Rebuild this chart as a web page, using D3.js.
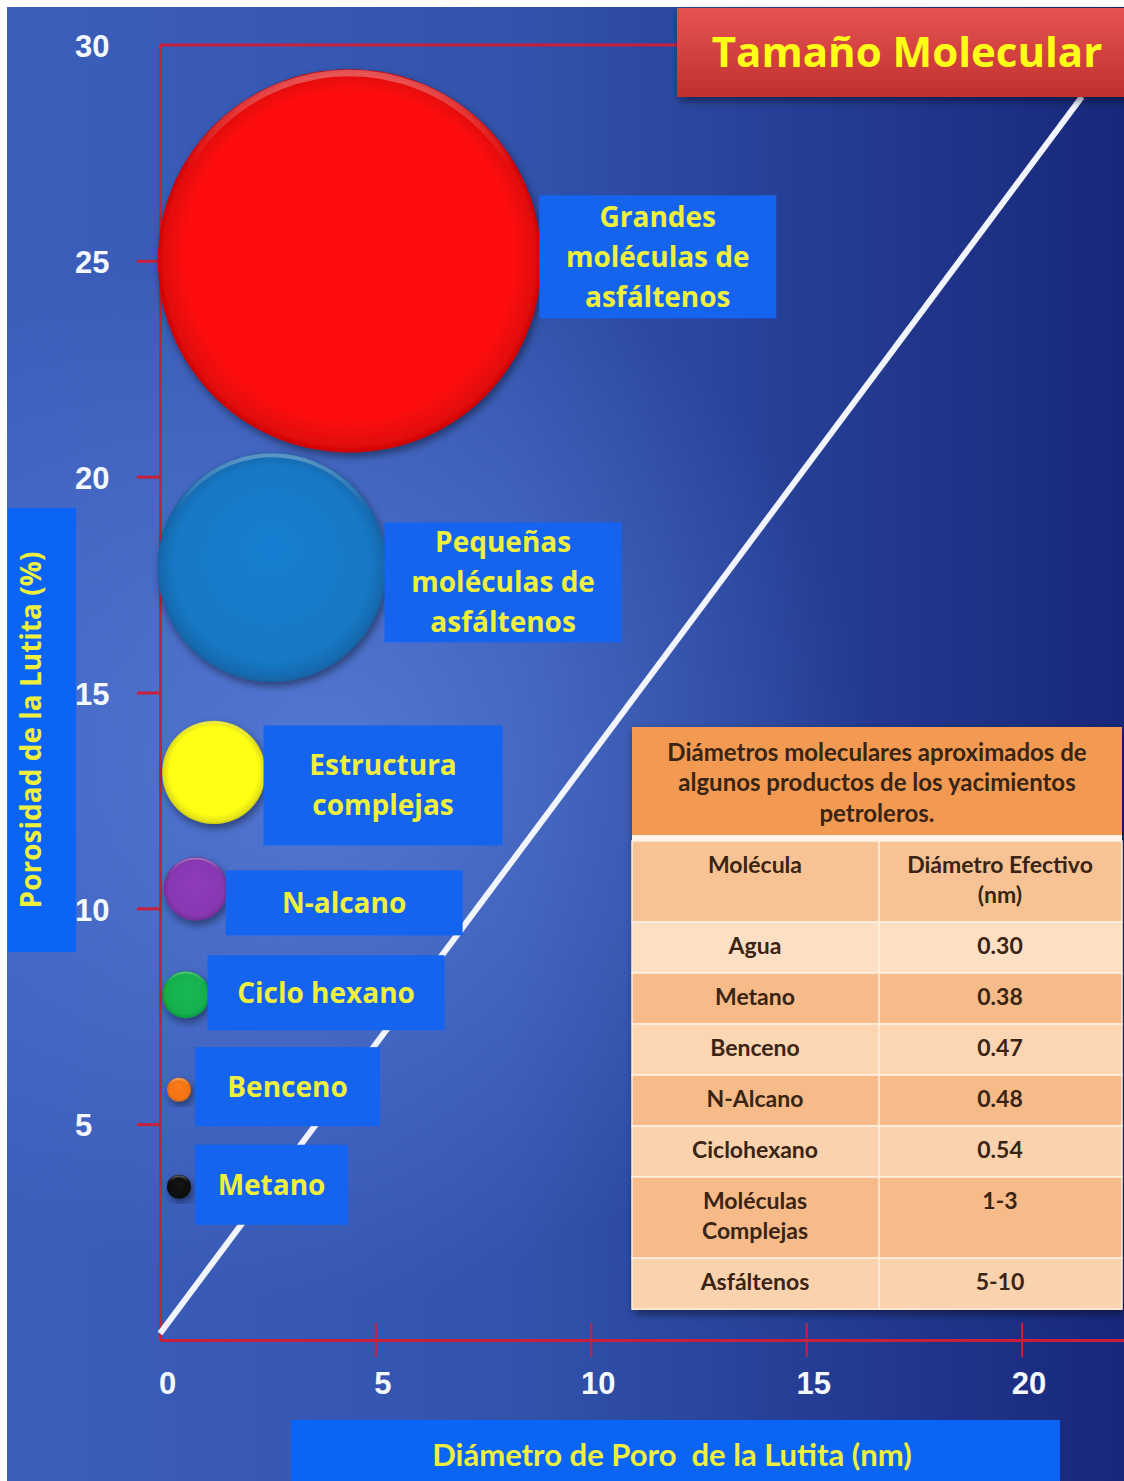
<!DOCTYPE html>
<html>
<meta charset="utf-8">
<head>
  <title>Tamaño Molecular</title>
</head>

<style>
body {
  margin: 0;
  background: #fff;
}
text {
  font-family: "Open Sans", sans-serif;
  white-space: pre;
}
.tick text {
  font-family: "Liberation Sans", Arial, sans-serif;
  font-weight: bold;
  font-size: 31px;
  fill: #f4f8ff;
}
.cell {
  font-family: Lato, sans-serif;
  font-weight: bold;
  font-size: 23px;
  fill: #3a2414;
  text-anchor: middle;
}
</style>

<body>
  <svg width="1124" height="1481"></svg>

  <script src="https://cdnjs.cloudflare.com/ajax/libs/d3/7.8.5/d3.min.js"></script>

  <script>
var width = 1124, height = 1481

// bubbles: pore diameter (nm), porosity (%), molecule radius (nm)
var molecules = ['Grandes moléculas de asfáltenos', 'Pequeñas moléculas de asfáltenos', 'Estructura complejas', 'N-alcano', 'Ciclo hexano', 'Benceno', 'Metano']
var labelLines = [['Grandes', 'moléculas de', 'asfáltenos'], ['Pequeñas', 'moléculas de', 'asfáltenos'], ['Estructura', 'complejas'], ['N-alcano'], ['Ciclo hexano'], ['Benceno'], ['Metano']]
var poreDiam = [4.4, 2.6, 1.25, 0.83, 0.6, 0.44, 0.44]
var porosity = [25.0, 17.9, 13.15, 10.45, 8.0, 5.8, 3.55]
var molRadius = [4.45, 2.66, 1.2, 0.74, 0.55, 0.28, 0.28]
var molColors = ['#ff0808', '#1878c6', '#ffff14', '#8838b2', '#12b04e', '#f07414', '#111111']

// white reference line
var lineX = [0, 21.4]
var lineY = [0.15, 28.8]

// axes
var xTicks = [0, 5, 10, 15, 20]
var yTicks = [5, 10, 15, 20, 25, 30]

// table
var tableTitle = ['Diámetros moleculares aproximados de', 'algunos productos de los yacimientos', 'petroleros.']
var tableHead = [['Molécula'], ['Diámetro Efectivo', '(nm)']]
var tableNames = [['Agua'], ['Metano'], ['Benceno'], ['N-Alcano'], ['Ciclohexano'], ['Moléculas', 'Complejas'], ['Asfáltenos']]
var tableDiam = ['0.30', '0.38', '0.47', '0.48', '0.54', '1-3', '5-10']

// label box layout (px)
var boxW = [237, 237, 239, 237, 237, 185, 153]
var boxH = [123, 120, 120, 65, 75, 79, 80]
var boxDy = [-4, 15, 13, 14, -2, -3, -2]

var svg = d3.select('svg')
var defs = svg.append('defs')

var x = d3.scaleLinear().domain([0, 22.4]).range([160, 1125])
var y = d3.scaleLinear().domain([0, 30]).range([1340, 45])

//background
var bg = defs.append('linearGradient').attr('id', 'bg')
bg.append('stop').attr('offset', '0').attr('stop-color', '#3c5fbc')
bg.append('stop').attr('offset', '0.45').attr('stop-color', '#3253ac')
bg.append('stop').attr('offset', '1').attr('stop-color', '#17277a')
var glow = defs.append('radialGradient').attr('id', 'glow')
  .attr('gradientUnits', 'userSpaceOnUse')
  .attr('cx', 330).attr('cy', 760).attr('r', 540)
glow.append('stop').attr('offset', '0').attr('stop-color', '#6a92ee').attr('stop-opacity', 0.55)
glow.append('stop').attr('offset', '1').attr('stop-color', '#6a92ee').attr('stop-opacity', 0)

svg.append('rect').attr('x', 7).attr('y', 7).attr('width', width).attr('height', height).attr('fill', 'url(#bg)')
svg.append('rect').attr('x', 7).attr('y', 7).attr('width', width).attr('height', height).attr('fill', 'url(#glow)')

var shadow = defs.append('filter').attr('id', 'shadow')
  .attr('x', '-20%').attr('y', '-20%').attr('width', '140%').attr('height', '140%')
shadow.append('feDropShadow').attr('dx', 2).attr('dy', 4).attr('stdDeviation', 4)
  .attr('flood-color', '#000').attr('flood-opacity', 0.45)

// axes
var red = '#c8203c'
var yAxis = d3.axisLeft(y).tickValues(yTicks).tickSize(23).tickSizeOuter(0).tickPadding(0)
var gy = svg.append('g').attr('transform', 'translate(' + x(0) + ',0)').call(yAxis)
gy.select('.domain').attr('stroke', red).attr('stroke-width', 3)
gy.selectAll('.tick line').attr('stroke', red).attr('stroke-width', 3)
  .attr('display', function(d) { return d == 30 ? 'none' : null })
gy.selectAll('.tick text').attr('x', -85).attr('dy', '0.38em').style('text-anchor', 'start')

var xAxis = d3.axisBottom(x).tickValues(xTicks).tickSizeOuter(0)
var gx = svg.append('g').attr('transform', 'translate(0,' + y(0) + ')').call(xAxis)
gx.select('.domain').attr('stroke', red).attr('stroke-width', 3)
gx.selectAll('.tick line').attr('stroke', red).attr('stroke-width', 2)
  .attr('y1', -17).attr('y2', 17)
  .attr('display', function(d) { return d == 0 ? 'none' : null })
gx.selectAll('.tick text').attr('y', 43).attr('dy', '0.36em').attr('x', 7)

// top frame line
svg.append('line')
  .attr('x1', x(0)).attr('x2', x(13)).attr('y1', y(30)).attr('y2', y(30))
  .attr('stroke', red).attr('stroke-width', 3)

// white diagonal line
svg.append('path')
  .datum(d3.zip(lineX, lineY))
  .attr('d', d3.line().x(function(d) { return x(d[0]) }).y(function(d) { return y(d[1]) }))
  .attr('stroke', '#f2f5ff').attr('stroke-width', 6).attr('fill', 'none')

// bubbles
var bubbles = molecules.map(function(m, i) {
  return {name: m, lines: labelLines[i], px: poreDiam[i], py: porosity[i], r: molRadius[i], color: molColors[i], i: i}
})

bubbles.forEach(function(d) {
  var c = d3.color(d.color)
  var g = defs.append('radialGradient').attr('id', 'ball' + d.i)
    .attr('cx', '50%').attr('cy', '50%').attr('r', '50%').attr('fx', '50%').attr('fy', '40%')
  g.append('stop').attr('offset', '0').attr('stop-color', c.brighter(0.15))
  g.append('stop').attr('offset', '0.85').attr('stop-color', c)
  g.append('stop').attr('offset', '0.97').attr('stop-color', c.darker(0.35))
  g.append('stop').attr('offset', '1').attr('stop-color', c.darker(0.6))
})
// top rim highlight
var hl = defs.append('linearGradient').attr('id', 'rim').attr('x1', 0).attr('y1', 0).attr('x2', 0).attr('y2', 1)
hl.append('stop').attr('offset', '0').attr('stop-color', '#fff').attr('stop-opacity', 0.3)
hl.append('stop').attr('offset', '0.25').attr('stop-color', '#fff').attr('stop-opacity', 0)

var rpx = function(d) { return x(d.r) - x(0) }
var rimW = function(d) { return Math.max(2, rpx(d) * 0.035) }

var balls = svg.append('g').selectAll('g')
  .data(bubbles)
  .enter()
  .append('g')
balls.append('circle')
  .attr('cx', function(d) { return x(d.px) })
  .attr('cy', function(d) { return y(d.py) })
  .attr('r', rpx)
  .attr('fill', function(d) { return 'url(#ball' + d.i + ')' })
  .attr('filter', 'url(#shadow)')
balls.append('circle')
  .attr('cx', function(d) { return x(d.px) })
  .attr('cy', function(d) { return y(d.py) })
  .attr('r', function(d) { return rpx(d) - rimW(d) / 2 - 0.5 })
  .attr('fill', 'none')
  .attr('stroke', 'url(#rim)')
  .attr('stroke-width', rimW)

// label boxes
var labels = svg.append('g').selectAll('g')
  .data(bubbles)
  .enter()
  .append('g')
  .attr('transform', function(d) {
    var left = Math.max(x(d.px) + rpx(d), 197) - 2
    var top = y(d.py) + boxDy[d.i] - boxH[d.i] / 2
    return 'translate(' + left + ',' + top + ')'
  })

labels.append('rect')
  .attr('width', function(d) { return boxW[d.i] })
  .attr('height', function(d) { return boxH[d.i] })
  .attr('fill', '#1464f0')

labels.selectAll('text')
  .data(function(d) {
    return d.lines.map(function(t, k) { return {t: t, k: k, n: d.lines.length, w: boxW[d.i], h: boxH[d.i]} })
  })
  .enter()
  .append('text')
  .attr('x', function(d) { return d.w / 2 })
  .attr('y', function(d) { return d.h / 2 + (d.k - (d.n - 1) / 2) * 40 })
  .attr('dy', '0.36em')
  .attr('text-anchor', 'middle')
  .style('font-weight', 'bold')
  .style('font-size', '28px')
  .style('fill', '#eef03c')
  .text(function(d) { return d.t })

// axis titles
svg.append('rect').attr('x', 8).attr('y', 508).attr('width', 68).attr('height', 444).attr('fill', '#0a64f5')
svg.append('text')
  .attr('transform', 'translate(31,730) rotate(-90)')
  .attr('text-anchor', 'middle').attr('dy', '0.36em')
  .style('font-weight', 'bold').style('font-size', '28px').style('fill', '#eef03c')
  .text('Porosidad de la Lutita (%)')

svg.append('rect').attr('x', 291).attr('y', 1420).attr('width', 769).attr('height', 70).attr('fill', '#0a64f5')
svg.append('text')
  .attr('x', 672).attr('y', 1455)
  .attr('text-anchor', 'middle').attr('dy', '0.36em')
  .style('font-family', 'Lato, sans-serif')
  .style('font-weight', 'bold').style('font-size', '31px').style('fill', '#eef03c')
  .text('Diámetro de Poro  de la Lutita (nm)')

// title box
var tg = defs.append('linearGradient').attr('id', 'titleFill').attr('x1', 0).attr('y1', 0).attr('x2', 0).attr('y2', 1)
tg.append('stop').attr('offset', '0').attr('stop-color', '#e65252')
tg.append('stop').attr('offset', '1').attr('stop-color', '#c0302e')
svg.append('rect').attr('x', 677).attr('y', 8).attr('width', 460).attr('height', 89)
  .attr('fill', 'url(#titleFill)').attr('filter', 'url(#shadow)')
svg.append('text')
  .attr('x', 907).attr('y', 52).attr('dy', '0.36em')
  .attr('text-anchor', 'middle')
  .style('font-weight', 'bold').style('font-size', '42px').style('fill', '#ffff18')
  .text('Tamaño Molecular')

// table
var tx = 632, tw = 490, colX = 879, tTop = 727
var tbl = svg.append('g')
tbl.append('rect').attr('x', tx).attr('y', tTop).attr('width', tw).attr('height', 583)
  .attr('fill', '#f6b887').attr('filter', 'url(#shadow)')
tbl.append('rect').attr('x', tx).attr('y', tTop).attr('width', tw).attr('height', 108).attr('fill', '#f39a52')
tbl.append('rect').attr('x', tx).attr('y', tTop + 108).attr('width', tw).attr('height', 6).attr('fill', '#fff4ea')
tbl.selectAll('text.ttl')
  .data(tableTitle)
  .enter()
  .append('text')
  .attr('class', 'cell')
  .attr('x', tx + tw / 2)
  .attr('y', function(d, k) { return tTop + 25 + k * 30.5 })
  .attr('dy', '0.36em')
  .style('font-size', '24px')
  .text(function(d) { return d })

var rows = [tableHead].concat(tableNames.map(function(n, i) { return [n, [tableDiam[i]]] }))
var rowFill = ['#f8c394', '#fddfc4', '#f7bb89', '#fcd5b3', '#f7bb89', '#fbd2ae', '#f7bb89', '#fbd2ae']
var ry = tTop + 114
rows.forEach(function(r, i) {
  var nl = Math.max(r[0].length, r[1].length)
  var h = 21 + 30 * nl
  tbl.append('rect').attr('x', tx).attr('y', ry).attr('width', tw).attr('height', h)
    .attr('fill', rowFill[i]).attr('stroke', '#fff1e2').attr('stroke-width', 1.5)
  ;[0, 1].forEach(function(c) {
    tbl.selectAll(null)
      .data(r[c])
      .enter()
      .append('text')
      .attr('class', 'cell')
      .attr('x', c == 0 ? 755 : 1000)
      .attr('y', function(d, k) { return ry + 24 + k * 30 })
      .attr('dy', '0.36em')
      .text(function(d) { return d })
  })
  ry += h
})
tbl.append('line').attr('x1', colX).attr('x2', colX).attr('y1', tTop + 114).attr('y2', ry)
  .attr('stroke', '#fff1e2').attr('stroke-width', 1.5)

  </script>
</body>
</html>
